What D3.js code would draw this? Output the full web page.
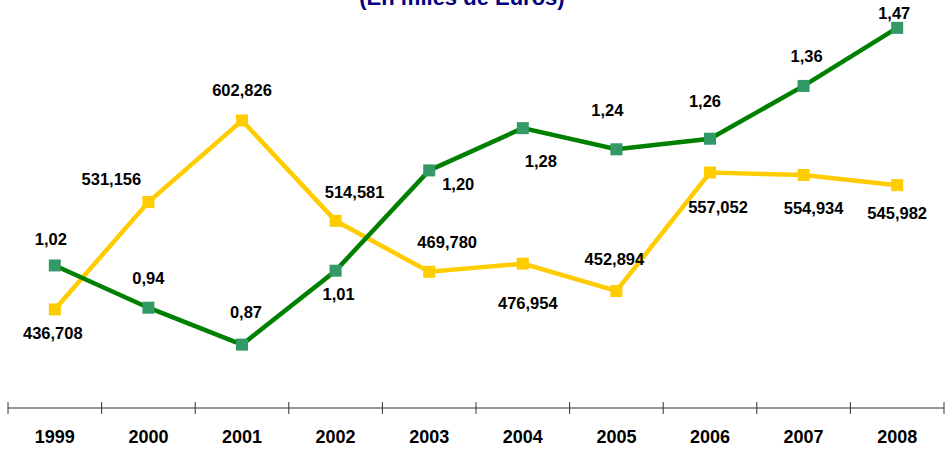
<!DOCTYPE html>
<meta charset="utf-8">
<script src="https://d3js.org/d3.v7.min.js"></script>
<style>
  body { margin: 0; background: #fff; }
  text { font-family: Arial, "Liberation Sans", sans-serif; }
</style>
<div id="chart"></div>
<script>
// data
var years = ["1999", "2000", "2001", "2002", "2003", "2004", "2005", "2006", "2007", "2008"];
var importes = [436708, 531156, 602826, 514581, 469780, 476954, 452894, 557052, 554934, 545982];
var ratios = [1.02, 0.94, 0.87, 1.01, 1.20, 1.28, 1.24, 1.26, 1.36, 1.47];
var importeLabels = ["436,708", "531,156", "602,826", "514,581", "469,780", "476,954", "452,894", "557,052", "554,934", "545,982"];
var ratioLabels = ["1,02", "0,94", "0,87", "1,01", "1,20", "1,28", "1,24", "1,26", "1,36", "1,47"];

// label offsets (dx, dy from the marker to the label centre)
var importeOff = [[-2, 24], [-37, -23], [0, -31], [19, -29], [18, -30], [5, 39], [-2, -32], [8, 34], [10, 33], [0, 28]];
var ratioOff = [[-4, -26], [0, -30], [4, -33], [3, 23], [29, 14], [18, 33], [-9, -39], [-5, -38], [3, -30], [-3, -15]];

var width = 951, height = 449;
var axisY = 408;

var svg = d3.select("#chart").append("svg")
    .attr("width", width)
    .attr("height", height);

var x = d3.scaleBand()
    .domain(years)
    .range([8, 944]);

var yImp = d3.scaleLinear()
    .domain([350000, 700000])
    .range([axisY, 10]);

var yRat = d3.scaleLinear()
    .domain([0.75, 1.5])
    .range([axisY, 12]);

// title (cut at top like the original)
svg.append("text")
    .attr("x", 462)
    .attr("y", 5)
    .attr("text-anchor", "middle")
    .style("font-size", "22px")
    .style("font-weight", "bold")
    .style("fill", "#000080")
    .text("(En miles de Euros)");

// x axis with ticks at band boundaries
svg.append("line")
    .attr("x1", x.range()[0]).attr("x2", x.range()[1])
    .attr("y1", axisY).attr("y2", axisY)
    .attr("stroke", "#333").attr("stroke-width", 1);

var bounds = years.map(function(d) { return x(d); }).concat([x.range()[1]]);
svg.selectAll(".tick")
    .data(bounds)
    .enter().append("line")
    .attr("x1", function(d) { return d; })
    .attr("x2", function(d) { return d; })
    .attr("y1", axisY - 6)
    .attr("y2", axisY + 6)
    .attr("stroke", "#333");

svg.selectAll(".year")
    .data(years)
    .enter().append("text")
    .attr("x", function(d) { return x(d) + x.bandwidth() / 2; })
    .attr("y", 443)
    .attr("text-anchor", "middle")
    .style("font-size", "18px")
    .style("font-weight", "bold")
    .text(function(d) { return d; });

function cx(i) { return x(years[i]) + x.bandwidth() / 2; }

function drawSeries(values, yScale, lineColor, markColor, labels, offs) {
    var line = d3.line()
        .x(function(d, i) { return cx(i); })
        .y(function(d) { return yScale(d); });

    svg.append("path")
        .datum(values)
        .attr("d", line)
        .attr("fill", "none")
        .attr("stroke", lineColor)
        .attr("stroke-width", 4.5)
        .attr("stroke-linejoin", "miter");

    svg.append("g").selectAll("rect")
        .data(values)
        .enter().append("rect")
        .attr("x", function(d, i) { return cx(i) - 6; })
        .attr("y", function(d) { return yScale(d) - 6; })
        .attr("width", 12)
        .attr("height", 12)
        .attr("fill", markColor);

    svg.append("g").selectAll("text")
        .data(values)
        .enter().append("text")
        .attr("x", function(d, i) { return cx(i) + offs[i][0]; })
        .attr("y", function(d, i) { return yScale(d) + offs[i][1] + 6; })
        .attr("text-anchor", "middle")
        .style("font-size", "16.5px")
        .style("font-weight", "bold")
        .text(function(d, i) { return labels[i]; });
}

drawSeries(importes, yImp, "#FFCC00", "#FFCC00", importeLabels, importeOff);
drawSeries(ratios, yRat, "#008000", "#339966", ratioLabels, ratioOff);
</script>
